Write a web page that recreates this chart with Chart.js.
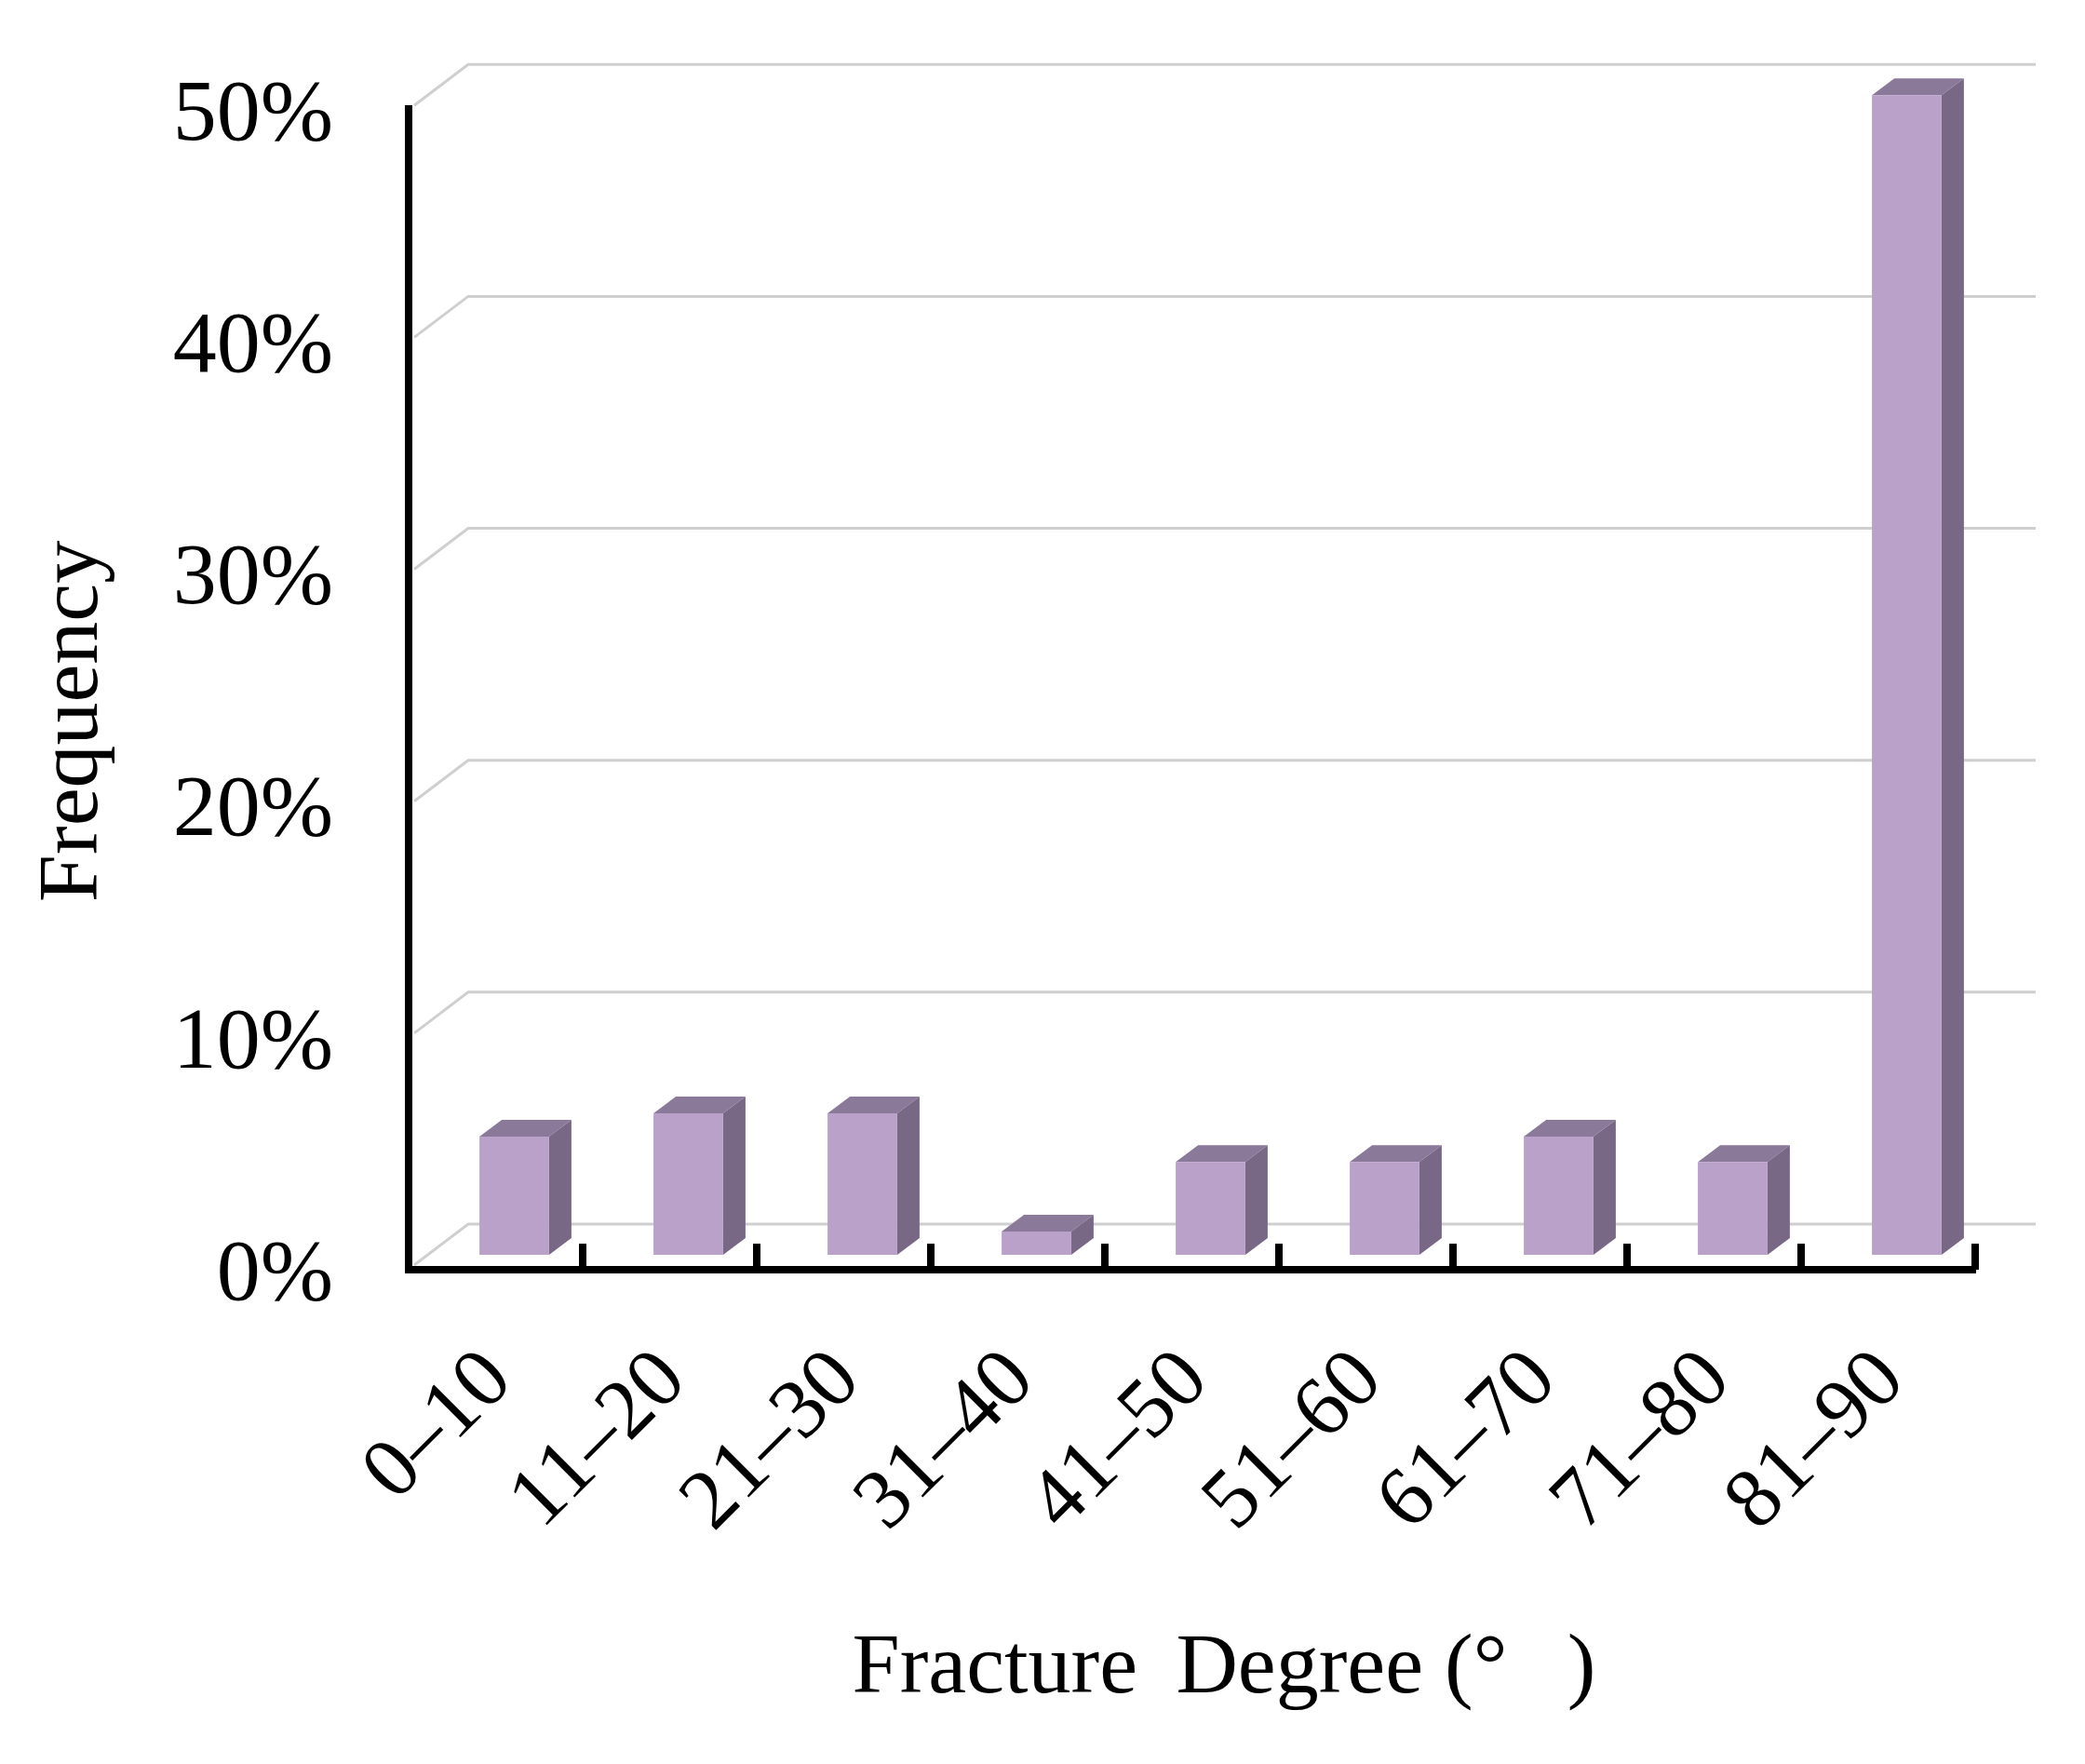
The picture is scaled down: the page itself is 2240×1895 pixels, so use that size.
<!DOCTYPE html>
<html>
<head>
<meta charset="utf-8">
<title>Fracture Degree</title>
<style>
  html, body { margin: 0; padding: 0; background: #fff; }
  canvas { display: block; }
</style>
<script src="https://cdn.jsdelivr.net/npm/chart.js@4/dist/chart.umd.min.js"></script>
</head>
<body>
<canvas id="chart" width="2240" height="1895"></canvas>
<script>
// Data
const categories = ['0–10', '11–20', '21–30', '31–40', '41–50', '51–60', '61–70', '71–80', '81–90'];
const frequency = [5.1, 6.1, 6.1, 1, 4, 4, 5.1, 4, 50];
const yTicks = [0, 10, 20, 30, 40, 50];

const serif = '"Liberation Serif", "Times New Roman", serif';
const gridColor = '#cfcfcf';

// Fake 3D look: bars sit in front of the axis plane, grid lines on a back wall
const pseudo3d = {
  id: 'pseudo3d',
  beforeDatasetsDraw(chart) {
    const { ctx, scales: { x, y } } = chart;
    const step = x.width / categories.length;

    // Back wall lines and the diagonals leading to them
    ctx.save();
    ctx.strokeStyle = gridColor;
    ctx.lineWidth = 3;
    yTicks.forEach(v => {
      const py = y.getPixelForValue(v);
      ctx.beginPath();
      ctx.moveTo(x.left + 6, py - 5);
      ctx.lineTo(x.left + 64, py - 49);
      ctx.lineTo(x.right + 65, py - 49);
      ctx.stroke();
    });
    ctx.restore();

    // Tick marks point up, into the plot
    ctx.save();
    ctx.strokeStyle = '#000';
    ctx.lineWidth = 8;
    categories.forEach((c, i) => {
      const px = x.left + step * (i + 1);
      ctx.beginPath();
      ctx.moveTo(px, y.bottom);
      ctx.lineTo(px, y.bottom - 28);
      ctx.stroke();
    });
    ctx.restore();

    // Everything in the dataset layer is shifted off the axis plane
    ctx.save();
    ctx.translate(20, -16);

    const depthX = 24;
    const depthY = 18;
    chart.getDatasetMeta(0).data.forEach(bar => {
      const left = bar.x - bar.width / 2;
      const right = bar.x + bar.width / 2;

      ctx.fillStyle = '#8a7998';
      ctx.beginPath();
      ctx.moveTo(left, bar.y);
      ctx.lineTo(left + depthX, bar.y - depthY);
      ctx.lineTo(right + depthX, bar.y - depthY);
      ctx.lineTo(right, bar.y);
      ctx.closePath();
      ctx.fill();

      ctx.fillStyle = '#786785';
      ctx.beginPath();
      ctx.moveTo(right, bar.y);
      ctx.lineTo(right + depthX, bar.y - depthY);
      ctx.lineTo(right + depthX, bar.base - depthY);
      ctx.lineTo(right, bar.base);
      ctx.closePath();
      ctx.fill();
    });
  },
  afterDatasetsDraw(chart) {
    chart.ctx.restore();
  }
};

new Chart(document.getElementById('chart'), {
  type: 'bar',
  data: {
    labels: categories,
    datasets: [{
      data: frequency,
      backgroundColor: '#b9a1ca',
      borderWidth: 0,
      barPercentage: 0.4,
      categoryPercentage: 1
    }]
  },
  options: {
    responsive: false,
    animation: false,
    devicePixelRatio: 1,
    layout: { padding: { top: 117, right: 118, left: 0, bottom: 0 } },
    plugins: {
      legend: { display: false },
      tooltip: { enabled: false }
    },
    scales: {
      x: {
        // fixed sizes so the plot box stays where the reference has it
        afterFit(scale) {
          scale.height = 531;
          scale.paddingLeft = 0;
          scale.paddingRight = 0;
        },
        grid: { display: false, drawTicks: false },
        border: { display: true, color: '#000', width: 8 },
        ticks: {
          color: '#000',
          font: { family: serif, size: 91 },
          minRotation: 45,
          maxRotation: 45,
          autoSkip: false,
          labelOffset: 4,
          padding: 66
        },
        title: {
          display: true,
          text: '\u00a0\u00a0\u00a0Fracture \u2009Degree (°\u00a0\u00a0\u2009)',
          color: '#000',
          font: { family: serif, size: 92 },
          padding: { top: 0, bottom: 46 }
        }
      },
      y: {
        min: 0,
        max: 50.05,
        afterFit(scale) {
          scale.width = 439;
          scale.paddingTop = 0;
          scale.paddingBottom = 0;
        },
        afterBuildTicks(scale) { scale.ticks = yTicks.map(value => ({ value })); },
        grid: { display: false, drawTicks: false },
        border: { display: true, color: '#000', width: 8 },
        ticks: {
          color: '#000',
          font: { family: serif, size: 94 },
          padding: 81,
          labelOffset: 7,
          callback: value => value + '%'
        },
        title: {
          display: true,
          text: 'Frequency\u00a0\u00a0\u00a0',
          color: '#000',
          font: { family: serif, size: 92 },
          padding: { top: 25, bottom: 0 }
        }
      }
    }
  },
  plugins: [pseudo3d]
});
</script>
</body>
</html>
